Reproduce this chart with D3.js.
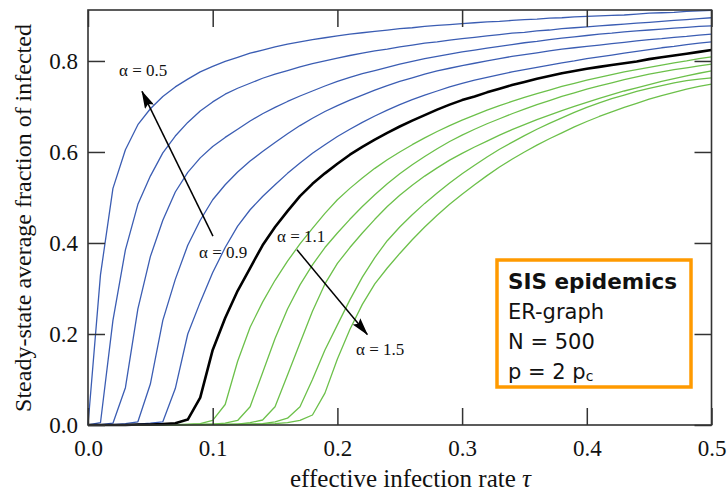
<!DOCTYPE html>
<html>
<head>
<meta charset="utf-8">
<script src="https://cdn.jsdelivr.net/npm/d3@7/dist/d3.min.js"></script>
<style>
  html, body { margin: 0; padding: 0; background: #fff; }
  svg { display: block; }
</style>
</head>
<body>
<svg id="chart" width="728" height="495"></svg>
<script>
// Effective infection rate grid (x values shared by all curves)
const tau = [
  0.00, 0.01, 0.02, 0.03, 0.04, 0.05, 0.06, 0.07, 0.08, 0.09,
  0.10, 0.11, 0.12, 0.13, 0.14, 0.15, 0.16, 0.17, 0.18, 0.19,
  0.20, 0.21, 0.22, 0.23, 0.24, 0.25, 0.26, 0.27, 0.28, 0.29,
  0.30, 0.31, 0.32, 0.33, 0.34, 0.35, 0.36, 0.37, 0.38, 0.39,
  0.40, 0.41, 0.42, 0.43, 0.44, 0.45, 0.46, 0.47, 0.48, 0.49,
  0.50
];

// Steady-state average fraction of infected nodes, one array per alpha
const rhoA05 = [
  0, 0.33, 0.52, 0.605, 0.66, 0.695, 0.722, 0.743, 0.76, 0.776,
  0.788, 0.799, 0.808, 0.817, 0.824, 0.831, 0.837, 0.842, 0.847, 0.851,
  0.855, 0.859, 0.862, 0.865, 0.868, 0.871, 0.873, 0.876, 0.878, 0.880,
  0.882, 0.884, 0.886, 0.887, 0.889, 0.891, 0.892, 0.894, 0.895, 0.897,
  0.898, 0.899, 0.900, 0.901, 0.903, 0.905, 0.906, 0.907, 0.909, 0.910,
  0.911
];
const rhoA06 = [
  0, 0.005, 0.23, 0.385, 0.485, 0.547, 0.598, 0.635, 0.665, 0.69,
  0.71, 0.727, 0.74, 0.751, 0.762, 0.771, 0.779, 0.787, 0.794, 0.80,
  0.806, 0.812, 0.817, 0.822, 0.826, 0.831, 0.835, 0.839, 0.842, 0.846,
  0.849, 0.852, 0.855, 0.858, 0.861, 0.863, 0.866, 0.868, 0.871, 0.873,
  0.875, 0.877, 0.879, 0.881, 0.883, 0.885, 0.887, 0.889, 0.891, 0.893,
  0.895
];
const rhoA07 = [
  0, 0.001, 0.004, 0.082, 0.255, 0.37, 0.45, 0.512, 0.555, 0.587,
  0.612, 0.632, 0.65, 0.668, 0.684, 0.698, 0.711, 0.723, 0.734, 0.745,
  0.755, 0.764, 0.772, 0.779, 0.786, 0.793, 0.799, 0.805, 0.81, 0.815,
  0.82, 0.824, 0.828, 0.832, 0.836, 0.84, 0.843, 0.847, 0.85, 0.853,
  0.856, 0.859, 0.861, 0.864, 0.866, 0.868, 0.870, 0.872, 0.874, 0.876,
  0.877
];
const rhoA08 = [
  0, 0, 0.001, 0.003, 0.007, 0.09, 0.23, 0.32, 0.395, 0.45,
  0.495, 0.528, 0.556, 0.58, 0.601, 0.621, 0.64, 0.658, 0.674, 0.689,
  0.702, 0.714, 0.725, 0.736, 0.746, 0.755, 0.763, 0.771, 0.778, 0.784,
  0.79, 0.795, 0.80, 0.805, 0.81, 0.814, 0.818, 0.822, 0.826, 0.829,
  0.832, 0.835, 0.838, 0.841, 0.844, 0.847, 0.849, 0.852, 0.854, 0.857,
  0.859
];
const rhoA09 = [
  0, 0, 0, 0.001, 0.002, 0.004, 0.007, 0.08, 0.2, 0.27,
  0.335, 0.39, 0.437, 0.473, 0.502, 0.528, 0.553, 0.576, 0.597, 0.616,
  0.634, 0.65, 0.665, 0.679, 0.692, 0.704, 0.715, 0.725, 0.734, 0.743,
  0.751, 0.758, 0.764, 0.77, 0.776, 0.781, 0.786, 0.791, 0.796, 0.80,
  0.805, 0.809, 0.813, 0.817, 0.821, 0.825, 0.829, 0.832, 0.836, 0.839,
  0.842
];
const rhoA10 = [
  0, 0, 0, 0, 0.001, 0.001, 0.002, 0.004, 0.012, 0.06,
  0.165, 0.235, 0.295, 0.345, 0.395, 0.435, 0.47, 0.503, 0.53, 0.553,
  0.574, 0.594, 0.611, 0.627, 0.642, 0.656, 0.669, 0.681, 0.693, 0.704,
  0.714, 0.722, 0.731, 0.739, 0.747, 0.754, 0.761, 0.767, 0.773, 0.778,
  0.783, 0.787, 0.791, 0.795, 0.799, 0.804, 0.808, 0.812, 0.816, 0.82,
  0.824
];
const rhoA11 = [
  null, 0, 0, 0, 0, 0.001, 0.001, 0.001, 0.002, 0.003,
  0.01, 0.045, 0.14, 0.215, 0.27, 0.318, 0.36, 0.398, 0.432, 0.465,
  0.495, 0.52, 0.543, 0.564, 0.583, 0.60, 0.616, 0.631, 0.645, 0.658,
  0.67, 0.681, 0.692, 0.702, 0.711, 0.72, 0.728, 0.736, 0.744, 0.751,
  0.758, 0.764, 0.77, 0.776, 0.781, 0.786, 0.791, 0.796, 0.80, 0.805,
  0.809
];
const rhoA12 = [
  null, 0, 0, 0, 0, 0.001, 0.001, 0.001, 0.001, 0.002,
  0.002, 0.004, 0.01, 0.04, 0.115, 0.19, 0.255, 0.308, 0.352, 0.39,
  0.422, 0.452, 0.48, 0.506, 0.53, 0.552, 0.572, 0.59, 0.607, 0.623,
  0.637, 0.65, 0.662, 0.673, 0.684, 0.694, 0.704, 0.713, 0.722, 0.73,
  0.738, 0.745, 0.752, 0.759, 0.765, 0.771, 0.776, 0.781, 0.785, 0.789,
  0.793
];
const rhoA13 = [
  null, 0, 0, 0, 0, 0, 0.001, 0.001, 0.001, 0.001,
  0.002, 0.002, 0.002, 0.005, 0.011, 0.04, 0.11, 0.18, 0.25, 0.31,
  0.355, 0.39, 0.422, 0.452, 0.48, 0.505, 0.527, 0.547, 0.565, 0.582,
  0.597, 0.611, 0.624, 0.637, 0.649, 0.66, 0.671, 0.681, 0.691, 0.70,
  0.709, 0.718, 0.726, 0.734, 0.741, 0.748, 0.755, 0.761, 0.767, 0.773,
  0.778
];
const rhoA14 = [
  null, 0, 0, 0, 0, 0, 0, 0.001, 0.001, 0.001,
  0.001, 0.001, 0.002, 0.002, 0.003, 0.007, 0.015, 0.04, 0.1, 0.165,
  0.22, 0.275, 0.325, 0.368, 0.405, 0.435, 0.462, 0.487, 0.51, 0.532,
  0.552, 0.571, 0.589, 0.606, 0.621, 0.636, 0.65, 0.663, 0.675, 0.687,
  0.698, 0.708, 0.717, 0.725, 0.733, 0.74, 0.746, 0.752, 0.757, 0.76,
  0.763
];
const rhoA15 = [
  null, 0, 0, 0, 0, 0, 0, 0, 0.001, 0.001,
  0.001, 0.001, 0.001, 0.002, 0.002, 0.003, 0.005, 0.01, 0.022, 0.07,
  0.145, 0.21, 0.265, 0.31, 0.345, 0.377, 0.407, 0.435, 0.461, 0.485,
  0.507, 0.528, 0.548, 0.567, 0.584, 0.60, 0.615, 0.629, 0.642, 0.655,
  0.667, 0.678, 0.688, 0.698, 0.707, 0.716, 0.724, 0.731, 0.738, 0.744,
  0.749
];

// Curves below the threshold exponent, at it, and above it
const subCurves = [rhoA05, rhoA06, rhoA07, rhoA08, rhoA09];
const criticalCurve = rhoA10;
const superCurves = [rhoA11, rhoA12, rhoA13, rhoA14, rhoA15];

// Axis ticks
const xTickValues = [0, 0.1, 0.2, 0.3, 0.4, 0.5];
const yTickValues = [0, 0.2, 0.4, 0.6, 0.8];

// Text
const xTitle = "effective infection rate ";
const xTitleSymbol = "τ";
const yTitle = "Steady-state average fraction of infected";
const alphaLabels = ["α = 0.5", "α = 0.9", "α = 1.1", "α = 1.5"];
const infoTitle = "SIS epidemics";
const infoLines = ["ER-graph", "N = 500", "p = 2 p"];
const infoSub = "c";

// ---- layout ----
const svg = d3.select("#chart");
const plotL = 88, plotR = 711.5, plotT = 10, plotB = 425;

const x = d3.scaleLinear().domain([0, 0.5]).range([plotL, plotR]);
const y = d3.scaleLinear().domain([0, 0.912]).range([plotB, plotT]);

const serif = "'Liberation Serif', 'Times New Roman', Times, serif";
const sans = "'DejaVu Sans', Verdana, sans-serif";
const axisColor = "#333";

// curves
const line = d3.line()
  .defined(d => d[1] != null)
  .x(d => x(d[0]))
  .y(d => y(d[1]));

const toPts = arr => tau.map((t, i) => [t, arr[i]]);

const curves = svg.append("g").attr("fill", "none").attr("stroke-linejoin", "round");
curves.selectAll("path.sub").data(subCurves).join("path")
  .attr("class", "sub")
  .attr("d", d => line(toPts(d)))
  .attr("stroke", "#3b5db3")
  .attr("stroke-width", 1.3);
curves.selectAll("path.sup").data(superCurves).join("path")
  .attr("class", "sup")
  .attr("d", d => line(toPts(d)))
  .attr("stroke", "#6cc04a")
  .attr("stroke-width", 1.3);
curves.append("path")
  .attr("d", line(toPts(criticalCurve)))
  .attr("stroke", "#000")
  .attr("stroke-width", 2.6);

// axes with inward ticks on all four sides
const styleAxis = g => {
  g.select(".domain").remove();
  g.selectAll(".tick line").attr("stroke", axisColor).attr("stroke-width", 1.5);
  g.selectAll(".tick text")
    .attr("fill", "#111")
    .style("font-family", serif)
    .style("font-size", "23px");
};

svg.append("g").attr("transform", `translate(0,${plotB})`)
  .call(d3.axisBottom(x).tickValues(xTickValues).tickSize(-17).tickPadding(15)
    .tickFormat(d3.format(".1f")))
  .call(styleAxis);
svg.append("g").attr("transform", `translate(0,${plotT})`)
  .call(d3.axisTop(x).tickValues(xTickValues).tickSize(-17).tickFormat(""))
  .call(styleAxis);
svg.append("g").attr("transform", `translate(${plotL},0)`)
  .call(d3.axisLeft(y).tickValues(yTickValues).tickSize(-17).tickPadding(10)
    .tickFormat(d3.format(".1f")))
  .call(styleAxis);
svg.append("g").attr("transform", `translate(${plotR},0)`)
  .call(d3.axisRight(y).tickValues(yTickValues).tickSize(-17).tickFormat(""))
  .call(styleAxis);

// plot frame
svg.append("rect")
  .attr("x", plotL).attr("y", plotT)
  .attr("width", plotR - plotL).attr("height", plotB - plotT)
  .attr("fill", "none").attr("stroke", axisColor).attr("stroke-width", 1.6);

// axis titles
const xt = svg.append("text")
  .attr("x", 410.5).attr("y", 487)
  .attr("text-anchor", "middle")
  .style("font-family", serif).style("font-size", "25px").attr("fill", "#111")
  .text(xTitle);
xt.append("tspan").style("font-style", "italic").text(xTitleSymbol);

svg.append("text")
  .attr("transform", "translate(31,218) rotate(-90)")
  .attr("text-anchor", "middle")
  .style("font-family", serif).style("font-size", "24px").attr("fill", "#111")
  .text(yTitle);

// arrows marking the direction of increasing alpha
const defs = svg.append("defs");
defs.append("marker")
  .attr("id", "head")
  .attr("markerUnits", "userSpaceOnUse")
  .attr("viewBox", "0 0 18 10")
  .attr("markerWidth", 18).attr("markerHeight", 10)
  .attr("refX", 17).attr("refY", 5)
  .attr("orient", "auto")
  .append("path").attr("d", "M0,0 L18,5 L0,10 L3,5 Z").attr("fill", "#000");

const arrows = [
  [[0.1002, 0.415], [0.0433, 0.733]],
  [[0.1676, 0.385], [0.2240, 0.199]]
];
svg.selectAll("line.arrow").data(arrows).join("line")
  .attr("class", "arrow")
  .attr("x1", d => x(d[0][0])).attr("y1", d => y(d[0][1]))
  .attr("x2", d => x(d[1][0])).attr("y2", d => y(d[1][1]))
  .attr("stroke", "#000").attr("stroke-width", 1.5)
  .attr("marker-end", "url(#head)");

const labelAnchors = [[0.0249, 0.767], [0.0890, 0.367], [0.1516, 0.402], [0.2150, 0.154]];
svg.selectAll("text.alpha").data(alphaLabels).join("text")
  .attr("class", "alpha")
  .attr("x", (d, i) => x(labelAnchors[i][0]))
  .attr("y", (d, i) => y(labelAnchors[i][1]))
  .style("font-family", serif).style("font-size", "17px").attr("fill", "#111")
  .text(d => d);

// info box
const box = svg.append("g");
box.append("rect")
  .attr("x", 497).attr("y", 260).attr("width", 194).attr("height", 127)
  .attr("fill", "#fff").attr("stroke", "#ff9a00").attr("stroke-width", 3.5);
box.append("text")
  .attr("x", 508).attr("y", 289)
  .style("font-family", sans).style("font-size", "21.5px").style("font-weight", "bold")
  .attr("fill", "#111")
  .text(infoTitle);
box.selectAll("text.info").data(infoLines).join("text")
  .attr("class", "info")
  .attr("x", 508).attr("y", (d, i) => 318.5 + i * 30)
  .style("font-family", sans).style("font-size", "21px").attr("fill", "#111")
  .text(d => d)
  .filter((d, i) => i === infoLines.length - 1)
  .append("tspan").attr("dy", 2).style("font-size", "14px").text(infoSub);
</script>
</body>
</html>
